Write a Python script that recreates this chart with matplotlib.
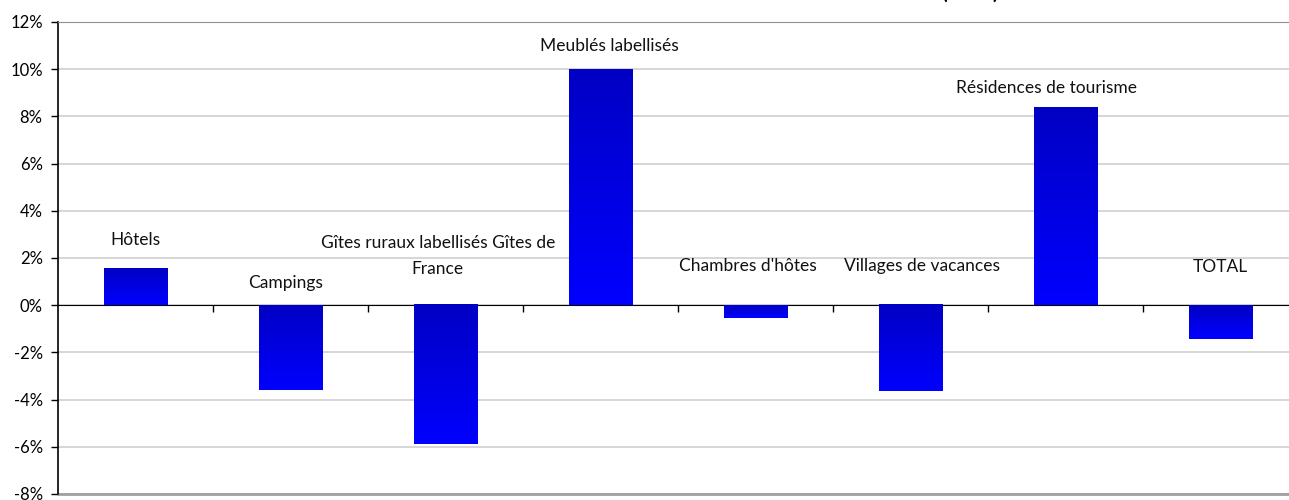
import numpy as np
import matplotlib
matplotlib.use("Agg")
import matplotlib.pyplot as plt
from matplotlib.colors import LinearSegmentedColormap
from matplotlib.ticker import FuncFormatter, MultipleLocator

categories = ["Hôtels", "Campings", "Gîtes ruraux labellisés Gîtes de\nFrance",
              "Meublés labellisés", "Chambres d'hôtes", "Villages de vacances",
              "Résidences de tourisme", "TOTAL"]
values = [1.53, -3.6, -5.9, 10.0, -0.55, -3.65, 8.35, -1.44]

# label placement (layout only)
label_y = [2.75, 0.93, 2.1, 10.97, 1.65, 1.65, 9.2, 1.6]
label_dx = [0.0, -0.03, -0.05, 0.055, -0.05, 0.075, -0.125, 0.0]

plt.rcParams['font.family'] = ['Lato', 'DejaVu Sans']

fig = plt.figure(figsize=(12.89, 5.0), dpi=100)
ax = fig.add_axes([58/1289, 6/500, 1240/1289, 472/500])

x = np.arange(len(categories))
width = 0.41
cmap = LinearSegmentedColormap.from_list("g", ["#0000FF", "#0000C4"])
grad = np.linspace(0, 1, 256).reshape(-1, 1)

bars = ax.bar(x, values, width=width, color="none", edgecolor="none", zorder=3)
for b in bars:
    x0 = b.get_x(); w = b.get_width()
    y0 = b.get_y(); h = b.get_height()
    lo, hi = min(y0, y0 + h), max(y0, y0 + h)
    ax.imshow(grad, cmap=cmap, extent=[x0, x0 + w, lo, hi], origin="lower",
              aspect="auto", zorder=3, interpolation="bicubic")

ax.set_xlim(-0.5, len(categories) - 0.5)
ax.set_ylim(-8, 12)
ax.yaxis.set_major_locator(MultipleLocator(2))
ax.yaxis.set_major_formatter(FuncFormatter(lambda v, p: f"{v:.0f}%"))
ax.grid(axis="y", color="#d0d0d0", linewidth=1.2, zorder=0)
ax.set_axisbelow(True)

ax.spines["right"].set_visible(False)
ax.spines["top"].set_color("#909090")
ax.spines["bottom"].set_position(("data", 0))
ax.spines["bottom"].set_color("#000000")
ax.spines["left"].set_color("#000000")
ax.spines["left"].set_linewidth(1.2)
ax.axhline(-8, color="#a0a0a0", linewidth=2.0, zorder=1, clip_on=False)

ax.set_xticks(np.arange(0.5, len(categories) - 0.5, 1))
ax.set_xticklabels([])
ax.tick_params(axis="x", direction="out", length=5, width=1, color="#000000")
ax.tick_params(axis="y", direction="out", length=5, width=1, color="#000000",
               labelsize=12, pad=6)

for i, (c, ly, dx) in enumerate(zip(categories, label_y, label_dx)):
    ax.text(i + dx, ly, c, ha="center", va="center", fontsize=12.5,
            color="#111111", linespacing=1.75, zorder=4)

fig.text(970/1289, 1 + 1/500, "(en %)", ha="center", va="baseline",
         fontsize=15, fontweight="bold")

fig.savefig("out.png", dpi=100)
